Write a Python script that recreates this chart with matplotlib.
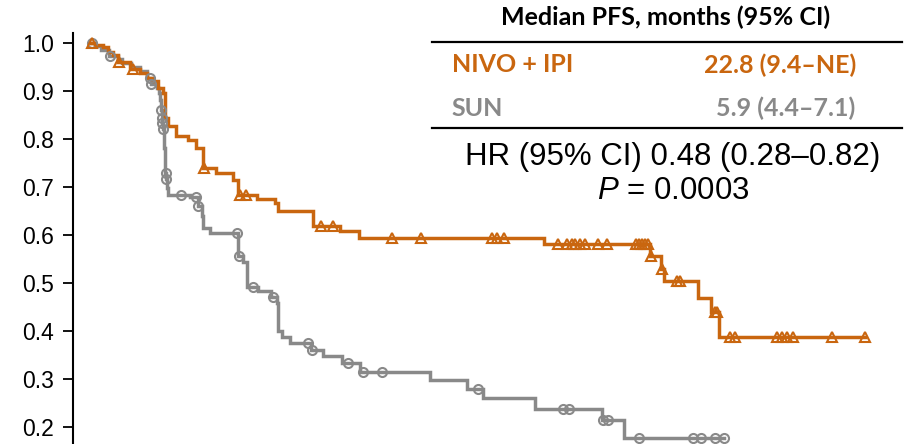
import numpy as np
import matplotlib
matplotlib.use("Agg")
import matplotlib.pyplot as plt

plt.rcParams["font.family"] = ["Liberation Sans", "DejaVu Sans"]
plt.rcParams["mathtext.fontset"] = "custom"
plt.rcParams["mathtext.it"] = "Liberation Sans:italic"
plt.rcParams["mathtext.rm"] = "Liberation Sans"

# Kaplan-Meier progression-free survival (months, survival probability)
nivo_t = [0, 0.15, 0.45, 0.64, 0.83, 1.02, 1.47, 1.85, 2.11, 2.34, 2.53, 2.72,
          2.79, 2.91, 3.21, 3.66, 3.96, 4.23, 4.72, 5.36, 5.55, 6.26, 6.94, 7.06,
          8.38, 9.40, 10.11, 17.09, 21.09, 21.50, 21.62, 22.91, 23.40, 23.70]
nivo_s = [1.0, 0.996, 0.99, 0.98, 0.975, 0.960, 0.945, 0.937, 0.927, 0.920, 0.906, 0.896,
          0.844, 0.826, 0.805, 0.798, 0.782, 0.740, 0.730, 0.715, 0.684, 0.674, 0.667, 0.649,
          0.618, 0.608, 0.594, 0.581, 0.556, 0.530, 0.504, 0.469, 0.441, 0.389]
nivo_cens = [0.03, 1.06, 1.58, 4.26, 5.62, 5.84, 8.68, 9.12, 11.35, 12.45, 15.12, 15.31,
             15.60, 17.62, 17.96, 18.15, 18.26, 18.45, 18.64, 19.13, 19.46, 20.57, 20.68,
             20.79, 20.90, 21.00, 21.15, 21.55, 22.10, 22.23, 23.55, 23.62, 24.11, 24.30,
             25.88, 26.06, 26.25, 26.48, 27.95, 29.21]

sun_t = [0, 0.15, 0.38, 0.68, 1.02, 1.17, 1.51, 1.85, 2.11, 2.26, 2.49, 2.57, 2.62, 2.64,
         2.66, 2.68, 2.70, 2.74, 2.77, 2.79, 2.81, 2.83, 2.87, 2.91, 3.74, 4.02, 4.18, 4.23,
         4.49, 5.55, 5.74, 5.88, 6.30, 6.79, 7.01, 7.07, 7.20, 7.51, 8.30, 8.75, 9.47, 10.15,
         12.79, 14.18, 14.79, 16.75, 19.27, 20.11]
sun_s = [1.0, 0.992, 0.985, 0.972, 0.965, 0.958, 0.950, 0.940, 0.927, 0.913, 0.906, 0.896,
         0.880, 0.860, 0.843, 0.832, 0.820, 0.800, 0.780, 0.755, 0.728, 0.716, 0.698, 0.684,
         0.680, 0.661, 0.639, 0.615, 0.604, 0.556, 0.543, 0.493, 0.483, 0.471, 0.459, 0.400,
         0.389, 0.375, 0.362, 0.348, 0.334, 0.316, 0.298, 0.279, 0.261, 0.238, 0.215, 0.178]
sun_cens = [0.03, 0.72, 2.23, 2.28, 2.64, 2.67, 2.69, 2.71, 2.82, 2.84, 3.40, 3.98, 4.05,
            5.51, 5.58, 6.11, 6.86, 8.19, 8.34, 9.70, 10.25, 10.97, 14.62, 17.80, 18.05,
            19.31, 19.50, 20.67, 22.71, 23.02, 23.55, 23.89]

y_ticks = [0.2, 0.3, 0.4, 0.5, 0.6, 0.7, 0.8, 0.9, 1.0]

ORANGE = "#C9660F"
GREY = "#898989"


def surv_at(times, surv, when):
    idx = np.searchsorted(np.asarray(times), np.asarray(when), side="right") - 1
    return np.asarray(surv)[idx]


W, H = 908, 444
fig = plt.figure(figsize=(W / 100, H / 100), dpi=100)
ax = fig.add_axes([73 / W, 0, (W - 73) / W, (H - 33) / H])
ax.set_xlim(-0.68, 30.83)
ax.set_ylim(0.1657, 1.020)

for t, s, cens, col, mk in [(sun_t, sun_s, sun_cens, GREY, "o"),
                            (nivo_t, nivo_s, nivo_cens, ORANGE, "^")]:
    tt = list(t) + [max(cens)]
    ss = list(s) + [s[-1]]
    ax.step(tt, ss, where="post", color=col, lw=2.5, solid_joinstyle="miter", zorder=3)
    ax.plot(cens, surv_at(t, s, cens), linestyle="none", marker=mk, ms=6.5 if mk == "o" else 7,
            mfc="none", mec=col, mew=1.5, zorder=4)

for side in ["top", "right", "bottom"]:
    ax.spines[side].set_visible(False)
ax.spines["left"].set_linewidth(1.5)
ax.set_yticks(y_ticks)
ax.set_yticklabels([f"{v:.1f}" for v in y_ticks])
ax.tick_params(axis="y", length=7, width=1.3, labelsize=16.5, pad=6.5)
ax.set_xticks([])

# Summary table
tf = ["Lato", "DejaVu Sans"]
bs = 18
fig.text(666 / W, 1 - 17 / H, "Median PFS, months (95% CI)", ha="center", va="center",
         fontsize=bs, fontweight="bold", family=tf)
fig.add_artist(plt.Line2D([431.7 / W, 901.7 / W], [1 - 41.7 / H] * 2, color="black", lw=1.6))
fig.text(451.7 / W, 1 - 65 / H, "NIVO + IPI", ha="left", va="center", fontsize=bs,
         fontweight="bold", color=ORANGE, family=tf)
fig.text(856.7 / W, 1 - 65 / H, "22.8 (9.4\u2013NE)", ha="right", va="center", fontsize=bs,
         fontweight="bold", color=ORANGE, family=tf)
fig.text(451.7 / W, 1 - 108 / H, "SUN", ha="left", va="center", fontsize=bs,
         fontweight="bold", color=GREY, family=tf)
fig.text(855 / W, 1 - 108 / H, "5.9 (4.4\u20137.1)", ha="right", va="center", fontsize=bs,
         fontweight="bold", color=GREY, family=tf)
fig.add_artist(plt.Line2D([431.7 / W, 901.7 / W], [1 - 128.3 / H] * 2, color="black", lw=1.6))
fig.text(673 / W, 1 - 157 / H, "HR (95% CI) 0.48 (0.28\u20130.82)", ha="center", va="center",
         fontsize=22.5)
fig.text(673 / W, 1 - 191 / H, "$P$ = 0.0003", ha="center", va="center", fontsize=22.5)

fig.savefig("out.png", dpi=100)
